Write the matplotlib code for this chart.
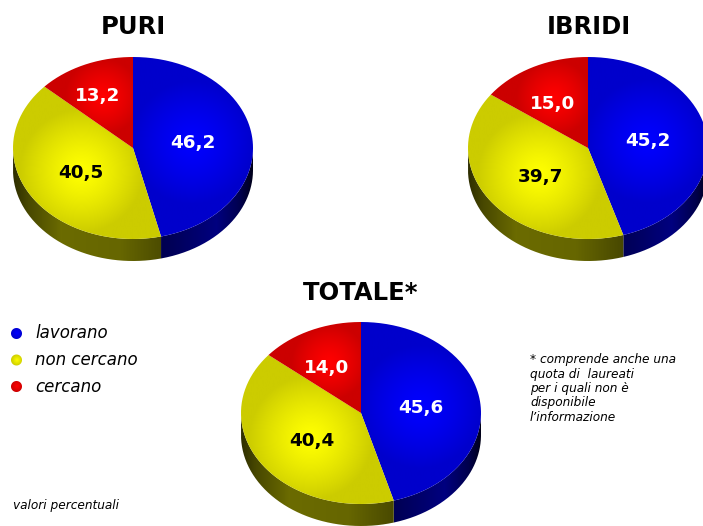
import numpy as np
import matplotlib
matplotlib.use("Agg")
import matplotlib.pyplot as plt
from matplotlib.path import Path
from matplotlib.patches import PathPatch

W, H = 703, 526

# data
series_names = ["lavorano", "non cercano", "cercano"]
puri = [46.2, 40.5, 13.2]
ibridi = [45.2, 39.7, 15.0]
totale = [45.6, 40.4, 14.0]
titles = ["PURI", "IBRIDI", "TOTALE*"]
puri_labels = ["46,2", "40,5", "13,2"]
ibridi_labels = ["45,2", "39,7", "15,0"]
totale_labels = ["45,6", "40,4", "14,0"]
footnote = ("* comprende anche una\nquota di  laureati\nper i quali non è\n"
            "disponibile\nl’informazione")
unit_note = "valori percentuali"

# styling
colors = [(0, 0, 1), (1, 1, 0), (1, 0, 0)]
label_colors = ["white", "black", "white"]
RX, RY, DEPTH = 120, 91, 22
FONT = "DejaVu Sans"

fig = plt.figure(figsize=(W / 100, H / 100), dpi=100)
ax = fig.add_axes([0, 0, 1, 1])


def arc(cx, cy, t1, t2, n=160):
    t = np.radians(np.linspace(t1, t2, n))
    return cx + RX * np.sin(t), cy - RY * np.cos(t)


def gradient(extent, arr, patch):
    ax.add_patch(patch)
    im = ax.imshow(arr, extent=extent, origin="upper", aspect="auto",
                   interpolation="bilinear", zorder=2)
    im.set_clip_path(patch)


def side_gain(col_idx, u):
    # u runs 0..1 over pie width
    if col_idx == 1:
        return np.interp(u, [0, .06, .2, .45, .65, 1], [.18, .28, .42, .40, .28, .2])
    if col_idx == 0:
        return np.interp(u, [0, .6, .68, .85, .95, 1], [.3, .3, .36, .5, .3, .1])
    return np.interp(u, [0, 1], [.35, .35])


def draw_pie(cx, cy, vals, labels, label_pos, title, title_pos):
    total = sum(vals)
    angs = np.concatenate([[0], np.cumsum(vals) / total * 360])
    # side wall
    for i in range(len(vals)):
        a, b = max(angs[i], 90), min(angs[i + 1], 270)
        if a < b:
            x, y = arc(cx, cy, a, b)
            vx = np.r_[x, x[::-1], x[0]]
            vy = np.r_[y, y[::-1] + DEPTH, y[0]]
            patch = PathPatch(Path(np.c_[vx, vy]), fc="none", ec="none")
            u = np.linspace(0, 1, 240)
            g = side_gain(i, u)
            arr = (np.array(colors[i])[None, None, :] * g[None, :, None])
            gradient([cx - RX, cx + RX, cy + RY + DEPTH + 2, cy - 5], arr, patch)
    # top face
    for i in range(len(vals)):
        x, y = arc(cx, cy, angs[i], angs[i + 1])
        vx = np.r_[cx, x, cx]
        vy = np.r_[cy, y, cy]
        patch = PathPatch(Path(np.c_[vx, vy]), fc="none", ec="none")
        mid = np.radians((angs[i] + angs[i + 1]) / 2)
        reach = 0.5 if vals[i] > 20 else 0.62
        gx = cx + reach * RX * np.sin(mid)
        gy = cy - reach * RY * np.cos(mid)
        xs = np.linspace(cx - RX - 1, cx + RX + 1, 260)
        ys = np.linspace(cy - RY - 1, cy + RY + 1, 200)
        X, Y = np.meshgrid(xs, ys)
        spread = 62 if vals[i] > 20 else 38
        d = np.hypot((X - gx) / spread, (Y - gy) / spread)
        gain = 1 - 0.2 * np.clip(d, 0, 1) ** 1.3
        arr = np.array(colors[i])[None, None, :] * gain[:, :, None]
        gradient([xs[0], xs[-1], ys[-1], ys[0]], arr, patch)
    for i, (lab, pos) in enumerate(zip(labels, label_pos)):
        ax.text(pos[0], pos[1], lab, color=label_colors[i], fontsize=13.2,
                fontweight="bold", family=FONT, ha="center", va="center", zorder=5)
    ax.text(title_pos[0], title_pos[1], title, color="black", fontsize=17.5,
            fontweight="bold", family=FONT, ha="center", va="center", zorder=5)


draw_pie(133, 148, puri, puri_labels, [(193, 143), (81, 173), (98, 96)], titles[0], (133, 27))
draw_pie(588, 148, ibridi, ibridi_labels, [(648, 141), (541, 177), (553, 104)], titles[1], (589, 27))
draw_pie(361, 413, totale, totale_labels, [(421, 408), (312, 441), (327, 368)], titles[2], (361, 293))

# legend
for (name, c, y) in zip(series_names, colors, [333.5, 360, 386.5]):
    t = np.linspace(0, 2 * np.pi, 80)
    patch = PathPatch(Path(np.c_[16.5 + 5.5 * np.cos(t), y + 5.5 * np.sin(t)]), fc="none", ec="none")
    xs = np.linspace(-6, 6, 40)
    X, Y = np.meshgrid(xs, xs)
    gain = 1 - 0.2 * np.clip(np.hypot(X, Y) / 6, 0, 1)
    arr = np.array(c)[None, None, :] * gain[:, :, None]
    gradient([10.5, 22.5, y + 6, y - 6], arr, patch)
    ax.text(35, y, name, fontsize=12, style="italic", family=FONT, color="black",
            ha="left", va="center", zorder=5)

ax.text(530, 388.5, footnote, fontsize=8.7, style="italic", family=FONT, color="black",
        ha="left", va="center", linespacing=1.13, zorder=5)
ax.text(13, 505, unit_note, fontsize=8.7, style="italic", family=FONT, color="black",
        ha="left", va="center", zorder=5)

ax.set_xlim(0, W)
ax.set_ylim(H, 0)
ax.axis("off")
fig.savefig("out.png", dpi=100, facecolor="white")
